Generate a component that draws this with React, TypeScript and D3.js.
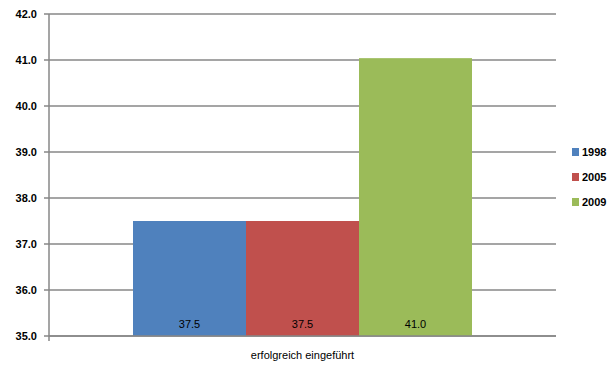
import React from "react";
import * as d3 from "d3";

const categories = ["erfolgreich eingeführt"];
const seriesNames = ["1998", "2005", "2009"];
const seriesValues = [37.5, 37.5, 41.04];
const valueLabels = ["37.5", "37.5", "41.0"];
const yTicks = [35, 36, 37, 38, 39, 40, 41, 42];
const colors = ["#4F81BD", "#C0504D", "#9BBB59"];

export default function App() {
  const W = 613, H = 367;
  const left = 49, right = 556, top = 14, bottom = 336;
  const y = d3.scaleLinear().domain([35, 42]).range([bottom, top]);
  const x0 = d3.scaleBand().domain(categories).range([left, right]).paddingInner(0).paddingOuter(0.2478);
  const bandStart = x0(categories[0])!;
  const bw = x0.bandwidth();
  const inner = d3.scaleBand().domain(seriesNames).range([bandStart, bandStart + bw]).padding(0);
  const font = "'Liberation Sans', Arial, sans-serif";
  return (
    <svg width={W} height={H} style={{ position: "absolute", left: 0, top: 0 }}>
      <rect width={W} height={H} fill="#fff" />
      {yTicks.map((t) => (
        <g key={t}>
          <line x1={left - 5} x2={right} y1={y(t)} y2={y(t)} stroke="#878787" strokeWidth={1.5} />
          <text x={37} y={y(t) + 4} textAnchor="end" fontFamily={font} fontWeight="bold" fontSize={11} fill="#000">
            {t.toFixed(1)}
          </text>
        </g>
      ))}
      {seriesNames.map((s, i) => (
        <g key={s}>
          <rect x={inner(s)} y={y(seriesValues[i])} width={inner.bandwidth()} height={bottom - y(seriesValues[i])} fill={colors[i]} />
          <text x={inner(s)! + inner.bandwidth() / 2} y={328} textAnchor="middle" fontFamily={font} fontSize={11} fill="#000">
            {valueLabels[i]}
          </text>
        </g>
      ))}
      <line x1={left} x2={left} y1={top} y2={bottom + 5} stroke="#878787" strokeWidth={1.5} />
      <line x1={left} x2={right} y1={bottom} y2={bottom} stroke="#878787" strokeWidth={1.5} />
      <text x={bandStart + bw / 2} y={359} textAnchor="middle" fontFamily={font} fontSize={11} fill="#000">
        {categories[0]}
      </text>
      {seriesNames.map((s, i) => (
        <g key={s}>
          <rect x={572} y={148 + i * 25} width={7} height={8} fill={colors[i]} />
          <text x={582} y={156 + i * 25} fontFamily={font} fontWeight="bold" fontSize={11} fill="#000">
            {s}
          </text>
        </g>
      ))}
    </svg>
  );
}
